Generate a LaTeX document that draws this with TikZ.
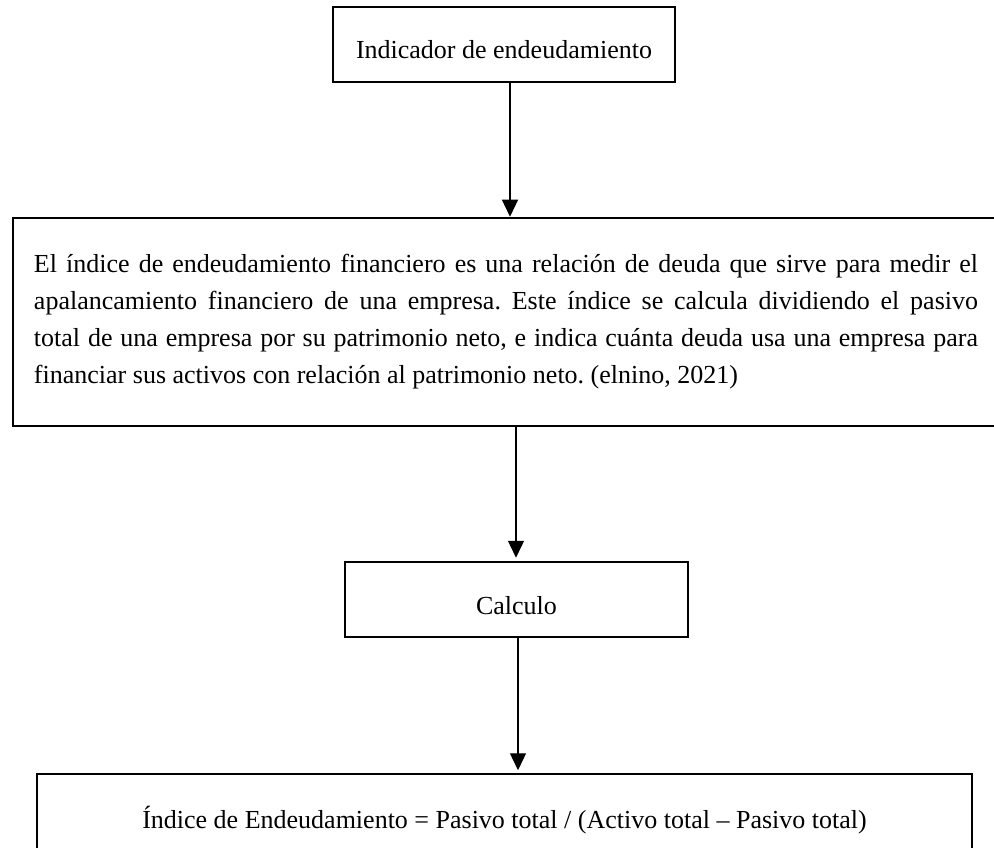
\documentclass[tikz,border=0pt]{standalone}
\usepackage{fontspec}
\setmainfont{Liberation Serif}
\usetikzlibrary{arrows.meta}
\frenchspacing
\begin{document}
\begin{tikzpicture}[x=1pt,y=-1pt,
  box/.style={draw, line width=2.5pt, inner sep=0pt, text height=29pt, text depth=0pt,
    font=\fontsize{26pt}{37pt}\selectfont},
  bigbox/.style={draw, line width=2.5pt, inner sep=0pt,
    font=\fontsize{26pt}{37pt}\selectfont},
  conn/.style={line width=1.3pt, -{Triangle[length=17pt,width=16pt]}}]
\useasboundingbox (0,0) rectangle (994,848);
\clip (0,0) rectangle (994,848);
\node[box, minimum width=342pt, minimum height=75pt] (top) at (504,44.5) {Indicador de endeudamiento};
\node[bigbox, text width=944pt, align=justify, minimum width=986pt, minimum height=208pt] (def) at (506,322)
  {El índice de endeudamiento financiero es una relación de deuda que sirve para medir el\linebreak
   apalancamiento financiero de una empresa. Este índice se calcula dividiendo el pasivo\linebreak
   total de una empresa por su patrimonio neto, e indica cuánta deuda usa una empresa para\linebreak
   financiar sus activos con relación al patrimonio neto. (elnino, 2021)};
\node[box, minimum width=343pt, minimum height=75pt] (calc) at (516.5,599.5) {Calculo};
\node[box, minimum width=935pt, minimum height=79pt] (form) at (504.5,813.5)
  {Índice de Endeudamiento = Pasivo total / (Activo total – Pasivo total)};
\draw[conn] ([xshift=6pt]top.south) -- ([xshift=6pt]top.south |- def.north);
\draw[conn, shorten >=3pt] ([xshift=10pt]def.south) -- ([xshift=10pt]def.south |- calc.north);
\draw[conn, shorten >=2.5pt] ([xshift=1.5pt]calc.south) -- ([xshift=1.5pt]calc.south |- form.north);
\end{tikzpicture}
\end{document}
